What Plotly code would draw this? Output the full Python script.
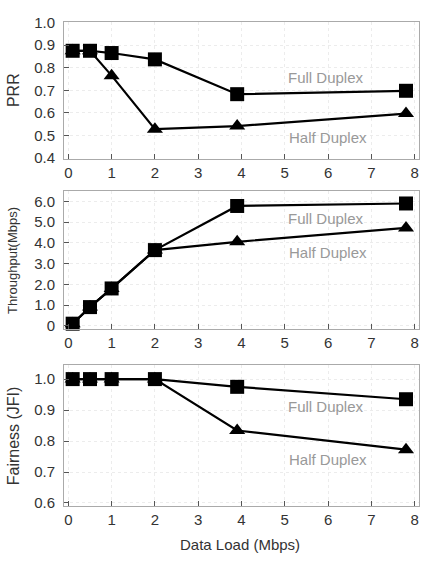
import plotly.graph_objects as go

x_load = [0.1, 0.5, 1.0, 2.0, 3.9, 7.8]

prr_full = [0.875, 0.875, 0.865, 0.837, 0.683, 0.698]
prr_half = [0.875, 0.875, 0.765, 0.528, 0.542, 0.597]

thr_full = [0.1, 0.9, 1.8, 3.65, 5.78, 5.9]
thr_half = [0.1, 0.9, 1.8, 3.65, 4.05, 4.72]

jfi_full = [1.0, 1.0, 1.0, 1.0, 0.975, 0.935]
jfi_half = [1.0, 1.0, 1.0, 1.0, 0.834, 0.772]

x_ticks = [0, 1, 2, 3, 4, 5, 6, 7, 8]
prr_ticks = [0.4, 0.5, 0.6, 0.7, 0.8, 0.9, 1.0]
thr_ticks = [0, 1, 2, 3, 4, 5, 6]
thr_tick_text = ["0", "1.0", "2.0", "3.0", "4.0", "5.0", "6.0"]
jfi_ticks = [0.6, 0.7, 0.8, 0.9, 1.0]

panels = [
    (prr_full, prr_half, [0.398, 1.004], prr_ticks, [f"{v:.1f}" for v in prr_ticks], "PRR", 16, 0.758, 0.49, [0.7237, 0.975]),
    (thr_full, thr_half, [-0.17, 6.52], thr_ticks, thr_tick_text, "Throughput(Mbps)", 13, 5.17, 3.53, [0.4105, 0.6649]),
    (jfi_full, jfi_half, [0.59, 1.047], jfi_ticks, [f"{v:.1f}" for v in jfi_ticks], "Fairness (JFI)", 16, 0.91, 0.74, [0.0861, 0.3458]),
]

FONT = "Liberation Sans, Arial, sans-serif"
fig = go.Figure()
layout = dict(
    width=426, height=561,
    margin=dict(l=64, r=7, t=0, b=0),
    paper_bgcolor="white", plot_bgcolor="white",
    showlegend=False,
    font=dict(family=FONT, size=15, color="#333"),
    annotations=[],
)

for i, (yf, yh, yr, yt, ytt, ytitle, tsize, fy, hy, dom) in enumerate(panels):
    n = "" if i == 0 else str(i + 1)
    xa, ya = "x" + n, "y" + n
    fig.add_trace(go.Scatter(x=x_load, y=yf, xaxis=xa, yaxis=ya, mode="lines+markers",
                             line=dict(color="black", width=2.2),
                             marker=dict(symbol="square", size=14, color="black"),
                             cliponaxis=False))
    fig.add_trace(go.Scatter(x=x_load, y=yh, xaxis=xa, yaxis=ya, mode="lines+markers",
                             line=dict(color="black", width=2.2),
                             marker=dict(symbol="triangle-up", size=14, color="black"),
                             cliponaxis=False))
    layout["xaxis" + n] = dict(
        domain=[0, 1], anchor=ya, range=[-0.1, 8.1], tickvals=x_ticks,
        ticks="inside", ticklen=5, tickcolor="#555", tickwidth=1,
        showline=True, linecolor="#aaa", linewidth=1, mirror=True,
        showgrid=True, gridcolor="#ececec", griddash="dot", zeroline=False,
        tickfont=dict(size=15, color="#333"),
    )
    layout["yaxis" + n] = dict(
        domain=dom, anchor=xa, range=yr, tickvals=yt, ticktext=ytt,
        ticks="inside", ticklen=5, tickcolor="#555", tickwidth=1,
        showline=True, linecolor="#aaa", linewidth=1, mirror=True,
        showgrid=True, gridcolor="#ececec", griddash="dot", zeroline=False,
        tickfont=dict(size=15, color="#333"), ticklabelstandoff=5,
    )
    layout["annotations"].append(dict(
        xref="paper", yref="paper", x=-0.1437, y=(dom[0] + dom[1]) / 2,
        text=ytitle, textangle=-90, showarrow=False,
        font=dict(size=tsize, color="#333"), xanchor="center", yanchor="middle"))
    layout["annotations"].append(dict(
        xref=xa, yref=ya, x=5.95, y=fy, text="Full Duplex", showarrow=False,
        font=dict(size=15, color="#999")))
    layout["annotations"].append(dict(
        xref=xa, yref=ya, x=6.0, y=hy, text="Half Duplex", showarrow=False,
        font=dict(size=15, color="#999")))

layout["annotations"].append(dict(
    xref="paper", yref="paper", x=0.496, y=1 - 552 / 561, text="Data Load (Mbps)",
    showarrow=False, font=dict(size=15, color="#333"), xanchor="center", yanchor="middle"))

fig.update_layout(**layout)
fig.write_html("out.html")
